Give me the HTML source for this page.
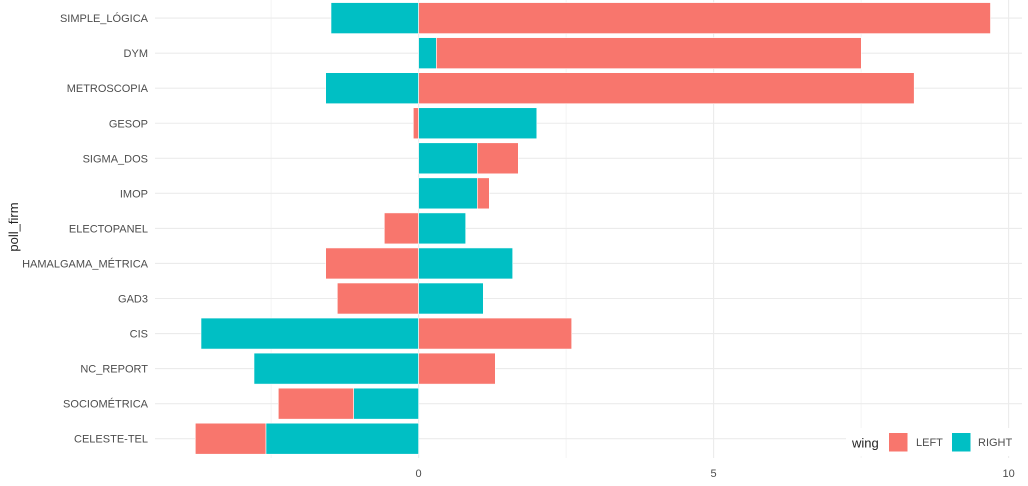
<!DOCTYPE html>
<html>
<head>
<meta charset="utf-8">
<style>
  html, body { margin: 0; padding: 0; background: #ffffff; }
  svg { display: block; }
  text { font-family: "Liberation Sans", Arial, sans-serif; }
</style>
</head>
<body>
<svg width="1028" height="486" viewBox="0 0 1028 486" xmlns="http://www.w3.org/2000/svg">
  <rect x="0" y="0" width="1028" height="486" fill="#ffffff"/>

  <!-- minor vertical gridlines -->
  <g stroke="#f2f2f2" stroke-width="0.8">
    <line x1="271.1" y1="0" x2="271.1" y2="458"/>
    <line x1="566.1" y1="0" x2="566.1" y2="458"/>
    <line x1="861.1" y1="0" x2="861.1" y2="458"/>
  </g>
  <!-- major vertical gridlines -->
  <g stroke="#ebebeb" stroke-width="1.1">
    <line x1="418.6" y1="0" x2="418.6" y2="458"/>
    <line x1="713.6" y1="0" x2="713.6" y2="458"/>
    <line x1="1008.6" y1="0" x2="1008.6" y2="458"/>
  </g>
  <!-- horizontal gridlines -->
  <g stroke="#ebebeb" stroke-width="1.1">
    <line x1="155" y1="18.1" x2="1022" y2="18.1"/>
    <line x1="155" y1="53.15" x2="1022" y2="53.15"/>
    <line x1="155" y1="88.2" x2="1022" y2="88.2"/>
    <line x1="155" y1="123.25" x2="1022" y2="123.25"/>
    <line x1="155" y1="158.3" x2="1022" y2="158.3"/>
    <line x1="155" y1="193.35" x2="1022" y2="193.35"/>
    <line x1="155" y1="228.4" x2="1022" y2="228.4"/>
    <line x1="155" y1="263.45" x2="1022" y2="263.45"/>
    <line x1="155" y1="298.5" x2="1022" y2="298.5"/>
    <line x1="155" y1="333.55" x2="1022" y2="333.55"/>
    <line x1="155" y1="368.6" x2="1022" y2="368.6"/>
    <line x1="155" y1="403.65" x2="1022" y2="403.65"/>
    <line x1="155" y1="438.7" x2="1022" y2="438.7"/>
  </g>

  <!-- bars -->
  <g stroke="#ffffff" stroke-width="0.6">
    <!-- 1 SIMPLE_LÓGICA -->
    <rect x="331" y="2.6" width="87.6" height="31" fill="#00BFC4"/>
    <rect x="418.6" y="2.6" width="571.9" height="31" fill="#F8766D"/>
    <!-- 2 DYM -->
    <rect x="418.6" y="37.65" width="17.8" height="31" fill="#00BFC4"/>
    <rect x="436.4" y="37.65" width="424.9" height="31" fill="#F8766D"/>
    <!-- 3 METROSCOPIA -->
    <rect x="325.7" y="72.7" width="92.9" height="31" fill="#00BFC4"/>
    <rect x="418.6" y="72.7" width="495.6" height="31" fill="#F8766D"/>
    <!-- 4 GESOP -->
    <rect x="413.3" y="107.75" width="5.3" height="31" fill="#F8766D"/>
    <rect x="418.6" y="107.75" width="118.2" height="31" fill="#00BFC4"/>
    <!-- 5 SIGMA_DOS -->
    <rect x="418.6" y="142.8" width="58.7" height="31" fill="#00BFC4"/>
    <rect x="477.3" y="142.8" width="41" height="31" fill="#F8766D"/>
    <!-- 6 IMOP -->
    <rect x="418.6" y="177.85" width="58.7" height="31" fill="#00BFC4"/>
    <rect x="477.3" y="177.85" width="12" height="31" fill="#F8766D"/>
    <!-- 7 ELECTOPANEL -->
    <rect x="384.3" y="212.9" width="34.3" height="31" fill="#F8766D"/>
    <rect x="418.6" y="212.9" width="47.1" height="31" fill="#00BFC4"/>
    <!-- 8 HAMALGAMA_MÉTRICA -->
    <rect x="325.7" y="247.95" width="92.9" height="31" fill="#F8766D"/>
    <rect x="418.6" y="247.95" width="94.1" height="31" fill="#00BFC4"/>
    <!-- 9 GAD3 -->
    <rect x="337.3" y="283" width="81.3" height="31" fill="#F8766D"/>
    <rect x="418.6" y="283" width="64.7" height="31" fill="#00BFC4"/>
    <!-- 10 CIS -->
    <rect x="201" y="318.05" width="217.6" height="31" fill="#00BFC4"/>
    <rect x="418.6" y="318.05" width="153.1" height="31" fill="#F8766D"/>
    <!-- 11 NC_REPORT -->
    <rect x="254" y="353.1" width="164.6" height="31" fill="#00BFC4"/>
    <rect x="418.6" y="353.1" width="76.7" height="31" fill="#F8766D"/>
    <!-- 12 SOCIOMÉTRICA -->
    <rect x="278.3" y="388.15" width="75.4" height="31" fill="#F8766D"/>
    <rect x="353.7" y="388.15" width="64.9" height="31" fill="#00BFC4"/>
    <!-- 13 CELESTE-TEL -->
    <rect x="195.3" y="423.2" width="70.7" height="31" fill="#F8766D"/>
    <rect x="266" y="423.2" width="152.6" height="31" fill="#00BFC4"/>
  </g>

  <!-- y-axis labels -->
  <g font-size="11" fill="#4d4d4d" text-anchor="end">
    <text x="148" y="22.1">SIMPLE_LÓGICA</text>
    <text x="148" y="57.15">DYM</text>
    <text x="148" y="92.2">METROSCOPIA</text>
    <text x="148" y="127.25">GESOP</text>
    <text x="148" y="162.3">SIGMA_DOS</text>
    <text x="148" y="197.35">IMOP</text>
    <text x="148" y="232.4">ELECTOPANEL</text>
    <text x="148" y="267.45">HAMALGAMA_MÉTRICA</text>
    <text x="148" y="302.5">GAD3</text>
    <text x="148" y="337.55">CIS</text>
    <text x="148" y="372.6">NC_REPORT</text>
    <text x="148" y="407.65">SOCIOMÉTRICA</text>
    <text x="148" y="442.7">CELESTE-TEL</text>
  </g>

  <!-- x-axis tick labels -->
  <g font-size="11" fill="#4d4d4d" text-anchor="middle">
    <text x="418.6" y="477">0</text>
    <text x="713.6" y="477">5</text>
    <text x="1008.6" y="477">10</text>
  </g>

  <!-- y-axis title -->
  <text x="0" y="0" font-size="13" fill="#222222" text-anchor="middle" transform="translate(18,227) rotate(-90)">poll_firm</text>

  <!-- legend -->
  <rect x="846" y="428" width="176" height="28" fill="#ffffff"/>
  <text x="852" y="447.5" font-size="13" fill="#222222">wing</text>
  <rect x="889" y="433" width="18.5" height="18.5" fill="#F8766D"/>
  <text x="916" y="446" font-size="11" fill="#4d4d4d">LEFT</text>
  <rect x="952" y="433" width="18.5" height="18.5" fill="#00BFC4"/>
  <text x="978" y="446" font-size="11" fill="#4d4d4d">RIGHT</text>
</svg>
</body>
</html>
